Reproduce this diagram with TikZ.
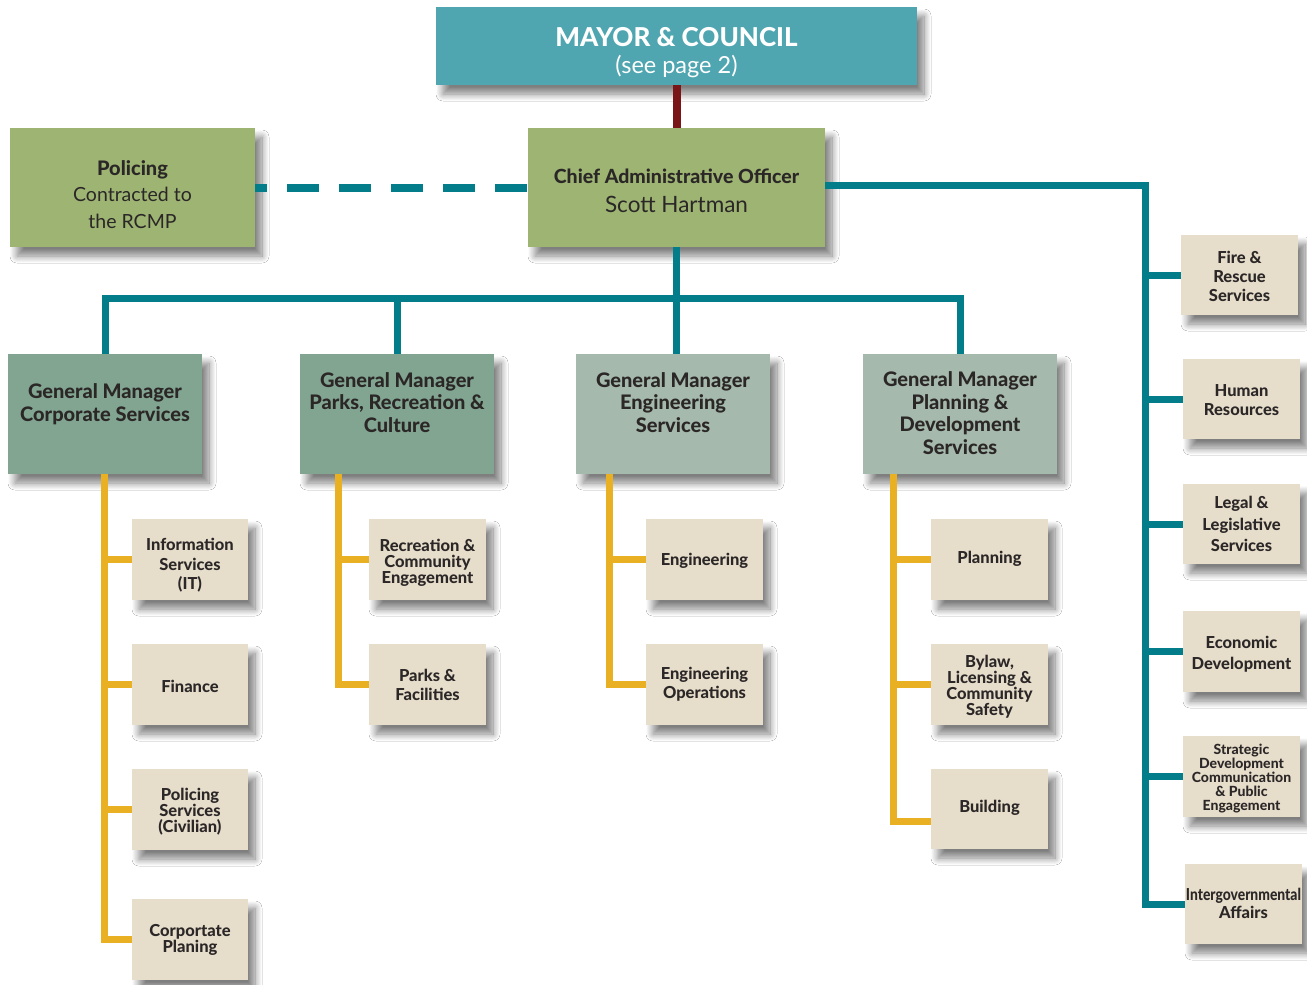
\documentclass[tikz,border=0pt]{standalone}
\usepackage{fontspec}
\setmainfont{Lato}[BoldFont={Lato Heavy}]
\usetikzlibrary{shadows.blur}
\definecolor{mayorc}{HTML}{4FA5B0}
\definecolor{tealc}{HTML}{047D8A}
\definecolor{redc}{HTML}{7A1517}
\definecolor{greenc}{HTML}{9DB473}
\definecolor{gmA}{HTML}{82A592}
\definecolor{gmB}{HTML}{A5B9AD}
\definecolor{subc}{HTML}{E6DDCB}
\definecolor{inkc}{HTML}{2B2727}
\definecolor{yellc}{HTML}{EAB024}
% \bx[box style]{name}{x1}{y1}{x2}{y2}{text style}{text}
\newcommand\bx[8][]{%
  \node[box,#1,minimum width={(#5-#3)*1pt},minimum height={(#6-#4)*1pt}] (#2) at ({(#3+#5)/2},{(#4+#6)/2}) {};
  \node[boxtext,#7] (#2-t) at (#2.center) {#8};}
\tikzset{
  box/.style={rectangle, inner sep=0pt,
    blur shadow={shadow xshift=7pt, shadow yshift=-9pt, shadow blur radius=7pt, shadow blur steps=12, shadow opacity=50}},
  boxtext/.style={align=center, text=inkc, inner sep=0pt, yshift=-2pt},
  sub/.style={font=\bfseries\fontsize{16.5}{16}\selectfont},
  gmtext/.style={align=center, text=inkc, font=\bfseries\fontsize{20}{22.5}\selectfont},
  tline/.style={draw=tealc, line width=7pt},
  yline/.style={draw=yellc, line width=7pt},
}
\begin{document}
\begin{tikzpicture}[x=1pt,y=-1pt]
\useasboundingbox[fill=white] (0,0) rectangle (1307,985);
% top
\bx[fill=mayorc]{mayor}{436}{7}{917}{85}{text=white, yshift=-5pt, font=\fontsize{23.5}{27}\selectfont}{{\bfseries\fontsize{26}{27}\selectfont MAYOR \& COUNCIL}\\(see page 2)}
\bx[fill=greenc]{cao}{528}{128}{825}{247}{yshift=-1pt, font=\fontsize{19.5}{29}\selectfont}{{\bfseries Chief Administrative Officer}\\{\fontsize{22.5}{29}\selectfont Scott Hartman}}
\bx[fill=greenc]{police}{10}{128}{255}{247}{yshift=-5pt, font=\fontsize{19.5}{26.5}\selectfont}{{\bfseries\fontsize{20}{26.5}\selectfont Policing}\\Contracted to\\the RCMP}
% general managers
\bx[fill=gmA]{gm1}{8}{354}{202}{474}{}{}
\bx[fill=gmA]{gm2}{300}{354}{494}{474}{}{}
\bx[fill=gmB]{gm3}{576}{354}{770}{474}{}{}
\bx[fill=gmB]{gm4}{863}{354}{1057}{474}{}{}
\node[gmtext] (gm1l) at (105,404) {General Manager\\Corporate Services};
\node[gmtext] (gm2l) at (397,402.5) {General Manager\\Parks, Recreation \&\\Culture};
\node[gmtext] (gm3l) at (673,402.5) {General Manager\\Engineering\\Services};
\node[gmtext] (gm4l) at (960,413) {General Manager\\Planning \&\\Development\\Services};
% corporate services
\bx[fill=subc]{info}{132}{519}{248}{600}{font=\bfseries\fontsize{16.5}{19.5}\selectfont, yshift=-4pt}{Information\\Services\\(IT)}
\bx[fill=subc]{fin}{132}{644}{248}{725}{sub}{Finance}
\bx[fill=subc]{pcs}{132}{769}{248}{850}{sub, yshift=0pt}{Policing\\Services\\(Civilian)}
\bx[fill=subc]{cpl}{132}{899}{248}{980}{sub, yshift=2pt}{Corportate\\Planing}
% parks
\bx[fill=subc]{rec}{369}{519}{486}{600}{sub, yshift=-1pt}{Recreation \&\\Community\\Engagement}
\bx[fill=subc]{parks}{369}{644}{486}{725}{font=\bfseries\fontsize{16.5}{19}\selectfont, yshift=2pt}{Parks \&\\Facilities}
% engineering
\bx[fill=subc]{eng}{646}{519}{763}{600}{sub, yshift=1pt}{Engineering}
\bx[fill=subc]{engops}{646}{644}{763}{725}{font=\bfseries\fontsize{16.5}{19}\selectfont, yshift=2pt}{Engineering\\Operations}
% planning
\bx[fill=subc]{plan}{931}{519}{1048}{600}{sub, yshift=3pt}{Planning}
\bx[fill=subc]{bylaw}{931}{644}{1048}{725}{sub, yshift=0pt}{Bylaw,\\Licensing \&\\Community\\Safety}
\bx[fill=subc]{bld}{931}{769}{1048}{849}{sub, yshift=3pt}{Building}
% right column
\bx[fill=subc]{fire}{1181}{235}{1298}{315}{font=\bfseries\fontsize{16.5}{19}\selectfont, yshift=1pt}{Fire \&\\Rescue\\Services}
\bx[fill=subc]{hr}{1183}{359}{1300}{439}{font=\bfseries\fontsize{16.5}{19}\selectfont, yshift=1pt}{Human\\Resources}
\bx[fill=subc]{legal}{1183}{484}{1300}{564}{font=\bfseries\fontsize{16.5}{21.5}\selectfont, yshift=2pt}{Legal \&\\Legislative\\Services}
\bx[fill=subc]{econ}{1183}{611}{1300}{692}{font=\bfseries\fontsize{16.5}{21}\selectfont, yshift=-1pt}{Economic\\Development}
\bx[fill=subc]{strat}{1183}{736}{1300}{817}{font=\bfseries\fontsize{14}{14}\selectfont, yshift=0pt}{Strategic\\Development\\Communication\\\& Public\\Engagement}
\bx[fill=subc]{ig}{1185}{864}{1302}{944}{font=\bfseries\fontsize{16.5}{18}\selectfont, yshift=3pt}{\scalebox{0.84}[1]{Intergovernmental}\\Affairs}
% connectors
\coordinate (rtop) at (1145,185);
\coordinate (bus) at (0,298);
\coordinate (ya) at (104,0);
\coordinate (yb) at (338,0);
\coordinate (yc) at (609,0);
\coordinate (yd) at (893,0);
\coordinate (ydend) at (893,821);
\draw[draw=redc, line width=8pt] (mayor.south) -- (cao.north);
\draw[draw=tealc, line width=8pt, dash pattern=on 32pt off 20pt, dash phase=20pt] (police.east) -- (cao.west);
\draw[tline] (cao.east |- rtop) -- (rtop) -- (rtop |- ig.west) -- (ig.west);
\foreach \n in {fire,hr,legal,econ,strat} \draw[tline] (rtop |- \n.west) -- (\n.west);
\draw[tline] (cao.south) -- (cao.south |- gm3.north);
\draw[tline] (gm1.north) -- (gm1.north |- bus) -- (gm4.north |- bus) -- (gm4.north);
\draw[tline] (gm2.north) -- (gm2.north |- bus);
\draw[yline] (gm1.south -| ya) -- (ya |- cpl.west) -- (cpl.west);
\foreach \n in {info,fin,pcs} \draw[yline] (ya |- \n.west) -- (\n.west);
\draw[yline] (gm2.south -| yb) -- (yb |- parks.west) -- (parks.west);
\draw[yline] (yb |- rec.west) -- (rec.west);
\draw[yline] (gm3.south -| yc) -- (yc |- engops.west) -- (engops.west);
\draw[yline] (yc |- eng.west) -- (eng.west);
\draw[yline] (gm4.south -| yd) -- (ydend) -- (ydend -| bld.west);
\foreach \n in {plan,bylaw} \draw[yline] (yd |- \n.west) -- (\n.west);
\end{tikzpicture}
\end{document}
